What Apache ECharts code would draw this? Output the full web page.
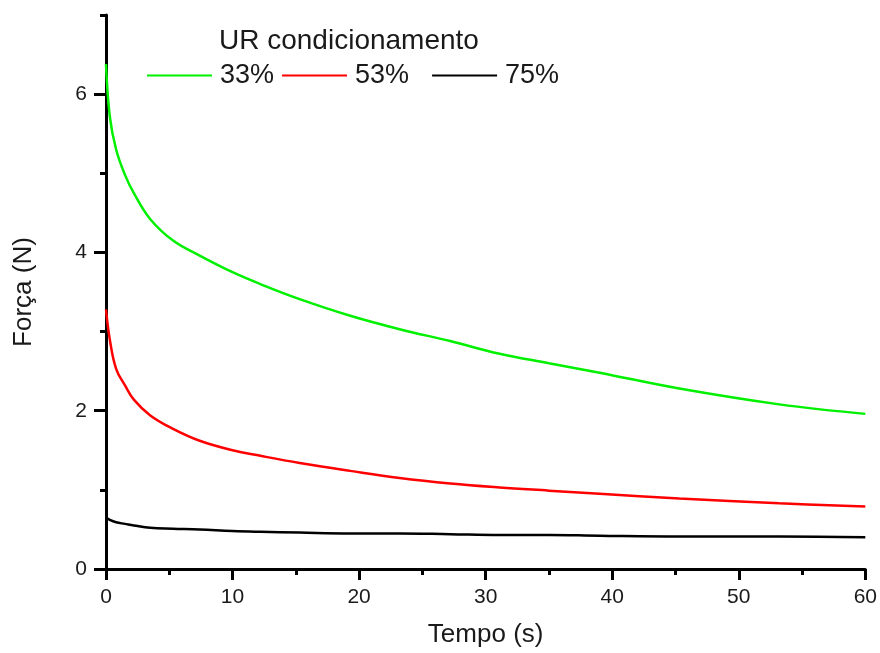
<!DOCTYPE html>
<html>
<head>
<meta charset="utf-8">
<script src="https://cdn.jsdelivr.net/npm/echarts@6/dist/echarts.min.js"></script>
<style>
  html, body { margin: 0; padding: 0; background: #fff; }
  #chart { width: 880px; height: 653px; }
</style>
</head>
<body>
<div id="chart"></div>
<script>
// Relaxation curves: force (N) against time (s) for three conditioning humidities
const tempo = [0, 0.3, 0.8, 1.5, 2.2, 3.5, 5.3, 7.4, 10, 12.2, 15.3, 19.3, 23.2, 27.2, 31.1, 35, 39, 45.3, 53.2, 60];
const forca33 = [6.38, 5.72, 5.30, 4.98, 4.75, 4.42, 4.15, 3.96, 3.75, 3.60, 3.41, 3.20, 3.03, 2.88, 2.72, 2.60, 2.48, 2.28, 2.08, 1.96];
const forca53 = [3.28, 2.90, 2.53, 2.32, 2.14, 1.94, 1.77, 1.62, 1.50, 1.43, 1.34, 1.24, 1.15, 1.08, 1.03, 0.99, 0.95, 0.89, 0.83, 0.79];
const forca75 = [0.65, 0.62, 0.59, 0.57, 0.55, 0.52, 0.51, 0.50, 0.48, 0.47, 0.46, 0.45, 0.45, 0.44, 0.43, 0.43, 0.42, 0.41, 0.41, 0.40];

const seriesNames = ['33%', '53%', '75%'];
const seriesColors = ['#00f000', '#ff0000', '#000000'];
const yMajorTicks = [0, 2, 4, 6];
const yMinorTicks = [1, 3, 5, 7];

const FONT = '"Liberation Sans", Arial, sans-serif';
const INK = '#1a1a1a';

function pairs(values) {
  return tempo.map((t, i) => [t, values[i]]);
}

const chart = echarts.init(document.getElementById('chart'), null, { renderer: 'canvas' });

const yBase = {
  type: 'value',
  min: 0,
  max: 7,
  interval: 1,
  position: 'left',
  splitLine: { show: false }
};

chart.setOption({
  animation: false,
  backgroundColor: '#ffffff',
  textStyle: { fontFamily: FONT },
  title: {
    text: 'UR condicionamento',
    left: 219,
    top: 27,
    padding: 0,
    textStyle: { fontFamily: FONT, fontSize: 28, fontWeight: 'normal', color: INK }
  },
  legend: {
    left: 147,
    top: 62,
    padding: 0,
    icon: 'rect',
    itemWidth: 65,
    itemHeight: 2,
    itemGap: 8,
    data: seriesNames,
    formatter: name => (name === '53%' ? name + '  ' : name),
    textStyle: { fontFamily: FONT, fontSize: 27, color: INK, padding: [0, 0, 0, 3] }
  },
  grid: { left: 106, right: 14, top: 15, bottom: 83, containLabel: false },
  xAxis: {
    type: 'value',
    min: 0,
    max: 60,
    interval: 10,
    name: 'Tempo (s)',
    nameLocation: 'middle',
    nameGap: 53,
    nameTextStyle: { fontFamily: FONT, fontSize: 26, color: INK },
    axisLine: { show: true, onZero: false, lineStyle: { color: '#000', width: 3 } },
    axisTick: { show: true, length: 11, lineStyle: { color: '#000', width: 3 } },
    minorTick: { show: true, splitNumber: 2, length: 6, lineStyle: { color: '#000', width: 3 } },
    axisLabel: { margin: 18, fontFamily: FONT, fontSize: 21, color: INK },
    splitLine: { show: false }
  },
  yAxis: [
    Object.assign({}, yBase, {
      name: 'Força (N)',
      nameLocation: 'middle',
      nameGap: 69,
      nameTextStyle: { fontFamily: FONT, fontSize: 26, color: INK },
      axisLine: { show: true, onZero: false, lineStyle: { color: '#000', width: 3 } },
      axisTick: { show: true, length: 12, customValues: yMajorTicks, lineStyle: { color: '#000', width: 3 } },
      axisLabel: { margin: 19, customValues: yMajorTicks, fontFamily: FONT, fontSize: 21, color: INK }
    }),
    Object.assign({}, yBase, {
      axisLine: { show: false },
      axisTick: { show: true, length: 6, customValues: yMinorTicks, lineStyle: { color: '#000', width: 3 } },
      axisLabel: { show: false }
    })
  ],
  series: [forca33, forca53, forca75].map((vals, i) => ({
    name: seriesNames[i],
    type: 'line',
    yAxisIndex: 0,
    data: pairs(vals),
    symbol: 'none',
    smooth: 0.4,
    lineStyle: { color: seriesColors[i], width: 2.5 },
    itemStyle: { color: seriesColors[i] },
    z: 3 - i
  }))
});
</script>
</body>
</html>
